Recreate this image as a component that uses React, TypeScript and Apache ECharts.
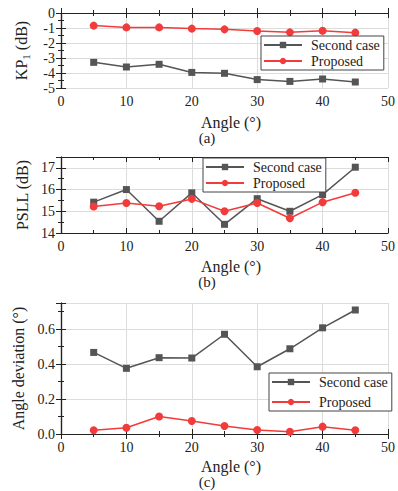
import React, { useEffect, useRef } from "react";
import * as echarts from "echarts";

const angles = [5, 10, 15, 20, 25, 30, 35, 40, 45];
const kpSecond = [-3.29, -3.6, -3.42, -3.96, -4.02, -4.44, -4.56, -4.4, -4.6];
const kpProposed = [-0.84, -0.96, -0.96, -1.04, -1.09, -1.2, -1.29, -1.18, -1.31];
const psllSecond = [15.42, 16.0, 14.54, 15.85, 14.4, 15.58, 15.0, 15.77, 17.03];
const psllProposed = [15.22, 15.38, 15.23, 15.57, 15.0, 15.38, 14.68, 15.42, 15.85];
const devSecond = [0.467, 0.376, 0.437, 0.435, 0.571, 0.385, 0.488, 0.608, 0.71];
const devProposed = [0.021, 0.036, 0.1, 0.074, 0.046, 0.023, 0.013, 0.042, 0.021];
const seriesNames = ["Second case", "Proposed"];

const FONT = "Liberation Serif";
const GRAY = "#555555";
const RED = "#f23b3b";

export default function App() {
  const ref = useRef<HTMLDivElement>(null);
  useEffect(() => {
    const chart = echarts.init(ref.current!, null, { renderer: "svg" });
    const grids = [
      { left: 61, right: 10, top: 13, height: 75 },
      { left: 61, right: 10, top: 157, height: 76 },
      { left: 61, right: 10, top: 303, height: 131 },
    ];
    const axisLine = { show: true, lineStyle: { color: "#222", width: 1.2 } };
    const tick = { show: true, inside: true, length: 5, lineStyle: { color: "#222" } };
    const minor = { show: true, splitNumber: 2, length: 3, lineStyle: { color: "#222" } };
    const split = { show: true, lineStyle: { color: "#dcdcdc", width: 1 } };
    const label = { fontFamily: FONT, fontSize: 14, color: "#222" };

    const xAxes: any[] = [];
    const yAxes: any[] = [];
    const yCfg = [
      { min: -5, max: 0, interval: 1, fmt: (v: number) => String(v), name: "KP{sub|1} (dB)", gap: 30 },
      { min: 14, max: 17.5, interval: 1, fmt: (v: number) => String(v), name: "PSLL (dB)", gap: 30 },
      { min: 0, max: 0.75, interval: 0.2, fmt: (v: number) => v.toFixed(1), name: "Angle deviation (°)", gap: 34 },
    ];
    for (let i = 0; i < 3; i++) {
      xAxes.push({
        type: "value", gridIndex: i, min: 0, max: 50, interval: 10, position: "bottom",
        axisLine, axisTick: tick, minorTick: minor, splitLine: split,
        axisLabel: { ...label, margin: 6 },
      });
      xAxes.push({
        type: "value", gridIndex: i, min: 0, max: 50, interval: 10, position: "top",
        axisLine, axisTick: tick, minorTick: minor, splitLine: { show: false },
        axisLabel: { show: false },
      });
      const c = yCfg[i];
      yAxes.push({
        type: "value", gridIndex: i, min: c.min, max: c.max, interval: c.interval, position: "left",
        axisLine, axisTick: tick, minorTick: minor, splitLine: split,
        axisLabel: { ...label, margin: 6, showMaxLabel: c.max % c.interval === 0 ? true : false, formatter: c.fmt },
        name: c.name, nameLocation: "middle", nameGap: c.gap, nameRotate: 90,
        nameTextStyle: {
          fontFamily: FONT, fontSize: 16, color: "#222",
          rich: { sub: { fontFamily: FONT, fontSize: 11, color: "#222", verticalAlign: "bottom", padding: [8, 0, 0, 0] } },
        },
      });
      yAxes.push({
        type: "value", gridIndex: i, min: c.min, max: c.max, interval: c.interval, position: "right",
        axisLine, axisTick: tick, minorTick: minor, splitLine: { show: false },
        axisLabel: { show: false },
      });
    }

    const datasets = [
      [kpSecond, kpProposed],
      [psllSecond, psllProposed],
      [devSecond, devProposed],
    ];
    const series: any[] = [];
    datasets.forEach((pair, i) => {
      pair.forEach((vals, j) => {
        series.push({
          type: "line",
          name: seriesNames[j],
          xAxisIndex: i * 2,
          yAxisIndex: i * 2,
          data: angles.map((a, k) => [a, vals[k]]),
          symbol: j === 0 ? "rect" : "circle",
          symbolSize: j === 0 ? 7 : 8,
          itemStyle: { color: j === 0 ? GRAY : RED },
          lineStyle: { color: j === 0 ? GRAY : RED, width: 1.5 },
        });
      });
    });

    const legendBoxes = [
      { left: 261, top: 36, w: 125, h: 36 },
      { left: 203, top: 158, w: 115, h: 35 },
      { left: 269, top: 373, w: 117, h: 40 },
    ];
    const legends = legendBoxes.map((b, i) => ({
      data: seriesNames,
      orient: "vertical",
      left: b.left,
      top: b.top,
      width: b.w,
      padding: [2, 4, 2, 2],
      itemGap: i === 2 ? 6 : 2,
      itemWidth: 38,
      itemHeight: 8,
      backgroundColor: "#fff",
      borderColor: "#444",
      borderWidth: 1,
      textStyle: { fontFamily: FONT, fontSize: 14, color: "#222", padding: [0, 0, 0, 4] },
      selectedMode: false,
    }));

    const txt = (x: number, y: number, s: string, size = 16) => ({
      type: "text", x, y,
      style: { text: s, fontFamily: FONT, fontSize: size, fill: "#222", textAlign: "center", textVerticalAlign: "middle" },
    });

    chart.setOption({
      animation: false,
      textStyle: { fontFamily: FONT },
      grid: grids,
      xAxis: xAxes,
      yAxis: yAxes,
      legend: legends,
      series,
      graphic: [
        txt(231, 122, "Angle (°)", 16),
        txt(207, 138, "(a)", 15),
        txt(231, 266, "Angle (°)", 16),
        txt(207, 282, "(b)", 15),
        txt(231, 466, "Angle (°)", 16),
        txt(207, 482, "(c)", 15),
      ],
    });
    return () => chart.dispose();
  }, []);
  return <div ref={ref} style={{ width: 398, height: 491, position: "absolute", left: 0, top: 0, background: "#fff" }} />;
}
